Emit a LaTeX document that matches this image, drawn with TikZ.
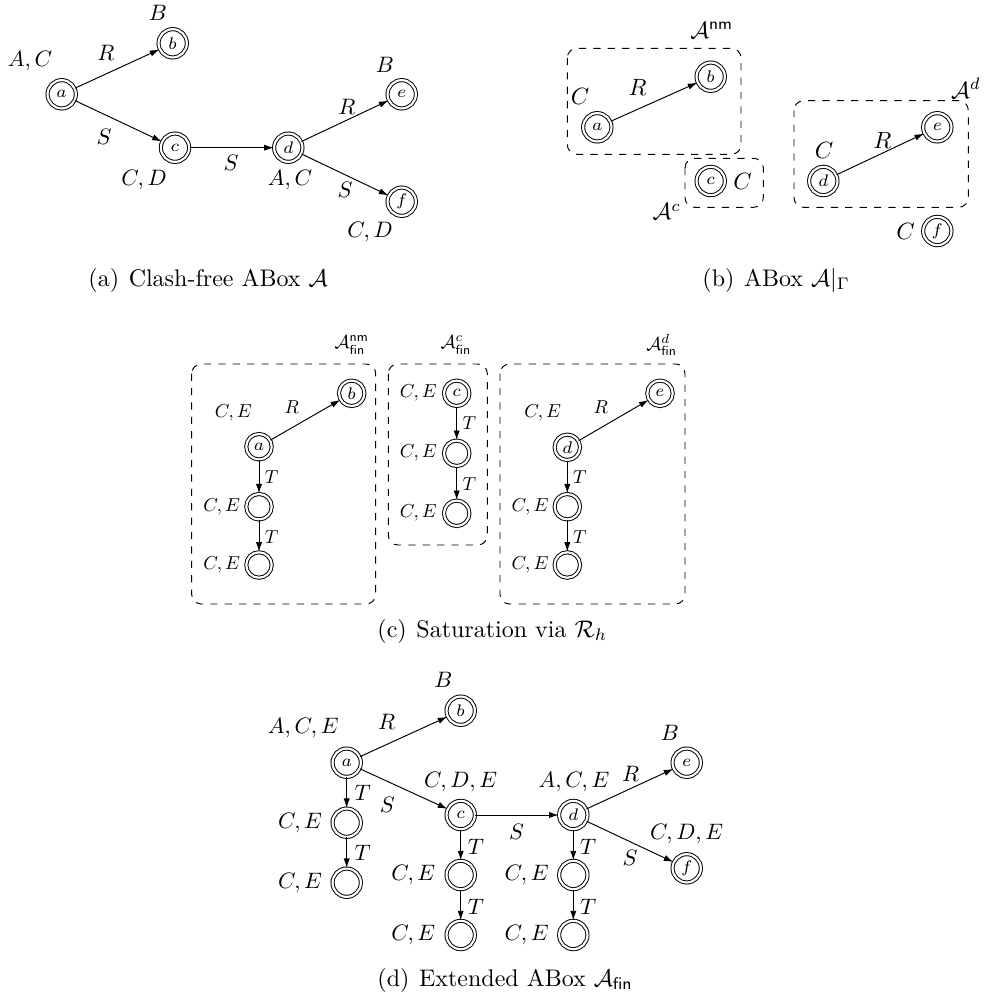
\documentclass[tikz,border=0pt]{standalone}
\usetikzlibrary{arrows.meta}
\begin{document}
\begin{tikzpicture}[x=0.4167pt,y=-0.4167pt,
  st/.style={circle,draw,double,double distance=0.9pt,inner sep=0pt,minimum size=11.8pt,font=\scriptsize},
  stc/.style={st,minimum size=10.6pt},
  lab/.style={inner sep=0pt,scale=0.93},
  labb/.style={inner sep=0pt,scale=0.98},
  labc/.style={inner sep=0pt,scale=0.78},
  arr/.style={-{Latex[length=4pt,width=2.6pt]},line width=0.4pt},
  grp/.style={dashed,rounded corners=4pt},
  capt/.style={inner sep=0pt,anchor=west}]
\useasboundingbox (0,0) rectangle (984,1001);

% ---------- (a) ----------
\node[st] (aa) at (61.7,94.3) {$a$};
\node[st] (ab) at (172.7,43.3) {$b$};
\node[st] (ac) at (175,147.7) {$c$};
\node[st] (ad) at (288.3,147.7) {$d$};
\node[st] (ae) at (401.7,94.3) {$e$};
\node[st] (af) at (401.7,201.7) {$f$};
\node[lab] (laa) at (30,61) {$A,C$};
\node[lab] (lab) at (158,13) {$B$};
\node[lab] (lac) at (144,180) {$C,D$};
\node[lab] (lad) at (290,180) {$A,C$};
\node[lab] (lae) at (385,65) {$B$};
\node[lab] (laf) at (370,232) {$C,D$};
\draw[arr] (aa) -- (ab);
\draw[arr] (aa) -- (ac);
\draw[arr] (ac) -- (ad);
\draw[arr] (ad) -- (ae);
\draw[arr] (ad) -- (af);
\node[lab] (eab) at (106,53) {$R$};
\node[lab] (eac) at (104,137) {$S$};
\node[lab] (ecd) at (231,163) {$S$};
\node[lab] (ede) at (347,107) {$R$};
\node[lab] (edf) at (345,190) {$S$};
\node[capt] (capa) at (88,280) {(a)\hspace{4pt}Clash-free ABox $\mathcal{A}$};

% ---------- (b) ----------
\draw[grp] (567.3,48.3) rectangle (741,154.3);
\draw[grp] (685,158.3) rectangle (763.3,207.3);
\draw[grp] (794,100.7) rectangle (968.3,207.3);
\node[st] (ba) at (597.3,127.3) {$a$};
\node[st] (bb) at (710.7,76.7) {$b$};
\node[st] (bc) at (710.7,181) {$c$};
\node[st] (bd) at (823.3,181) {$d$};
\node[st] (be) at (937.3,127.3) {$e$};
\node[st] (bf) at (937.3,231) {$f$};
\draw[arr] (ba) -- (bb);
\draw[arr] (bd) -- (be);
\node[labb] (lba) at (580,96.7) {$C$};
\node[labb] (lbc) at (742.7,181) {$C$};
\node[labb] (lbd) at (824,150) {$C$};
\node[labb] (lbf) at (905.7,231) {$C$};
\node[labb] (ebab) at (637.7,87.3) {$R$};
\node[labb] (ebde) at (882.3,140) {$R$};
\node[labb] (gnm) at (711.7,30) {$\mathcal{A}^{\mathsf{nm}}$};
\node[labb] (gc) at (666.7,211.7) {$\mathcal{A}^{c}$};
\node[labb] (gd) at (966,88.3) {$\mathcal{A}^{d}$};
\node[capt] (capb) at (702,280) {(b)\hspace{4pt}ABox $\mathcal{A}|_{\Gamma}$};

% ---------- (c) ----------
\draw[grp] (191.7,364) rectangle (375.7,604);
\draw[grp] (388.3,364) rectangle (487.3,545);
\draw[grp] (500,364) rectangle (685,604);
\node[labc] (gcnm) at (351.7,345) {$\mathcal{A}^{\mathsf{nm}}_{\mathsf{fin}}$};
\node[labc] (gcc) at (456,345) {$\mathcal{A}^{c}_{\mathsf{fin}}$};
\node[labc] (gcd) at (661.7,345) {$\mathcal{A}^{d}_{\mathsf{fin}}$};
% box nm
\node[stc] (ca) at (259,446.7) {$a$};
\node[stc] (cb) at (351.7,393.3) {$b$};
\node[stc] (ca1) at (259,506.7) {};
\node[stc] (ca2) at (259,565) {};
\draw[arr] (ca) -- (cb);
\draw[arr] (ca) -- (ca1);
\draw[arr] (ca1) -- (ca2);
\node[labc] (lca) at (233.3,413.3) {$C,E$};
\node[labc] (lca1) at (221.7,506.7) {$C,E$};
\node[labc] (lca2) at (221.7,565) {$C,E$};
\node[labc] (ecab) at (291.7,406.7) {$R$};
\node[labc] (eca1) at (271.7,476.7) {$T$};
\node[labc] (eca2) at (271.7,536.7) {$T$};
% box c
\node[stc] (cc) at (456.7,393.3) {$c$};
\node[stc] (cc1) at (456.7,453.3) {};
\node[stc] (cc2) at (456.7,513.3) {};
\draw[arr] (cc) -- (cc1);
\draw[arr] (cc1) -- (cc2);
\node[labc] (lcc) at (418.3,393.3) {$C,E$};
\node[labc] (lcc1) at (418.3,453.3) {$C,E$};
\node[labc] (lcc2) at (418.3,513.3) {$C,E$};
\node[labc] (ecc1) at (469.3,423.3) {$T$};
\node[labc] (ecc2) at (469.3,484) {$T$};
% box d
\node[stc] (cd) at (567.3,447.3) {$d$};
\node[stc] (ce) at (660,393.3) {$e$};
\node[stc] (cd1) at (567.3,506.7) {};
\node[stc] (cd2) at (567.3,565) {};
\draw[arr] (cd) -- (ce);
\draw[arr] (cd) -- (cd1);
\draw[arr] (cd1) -- (cd2);
\node[labc] (lcd) at (542.7,413.3) {$C,E$};
\node[labc] (lcd1) at (530,506.7) {$C,E$};
\node[labc] (lcd2) at (530,565) {$C,E$};
\node[labc] (ecde) at (600.7,406.7) {$R$};
\node[labc] (ecd1) at (580,476.7) {$T$};
\node[labc] (ecd2) at (580,536.7) {$T$};
\node[capt] (capc) at (377,631) {(c)\hspace{4pt}Saturation via $\mathcal{R}_h$};

% ---------- (d) ----------
\node[st] (da) at (346.7,762.7) {$a$};
\node[st] (db) at (460.7,710.7) {$b$};
\node[st] (da1) at (346.7,822.7) {};
\node[st] (da2) at (346.7,882.7) {};
\node[st] (dc) at (460.7,815) {$c$};
\node[st] (dc1) at (460.7,875) {};
\node[st] (dc2) at (460.7,935) {};
\node[st] (dd) at (573.3,815) {$d$};
\node[st] (dd1) at (573.3,875) {};
\node[st] (dd2) at (573.3,935) {};
\node[st] (de) at (686.7,762.7) {$e$};
\node[st] (df) at (686.7,868.3) {$f$};
\draw[arr] (da) -- (db);
\draw[arr] (da) -- (dc);
\draw[arr] (da) -- (da1);
\draw[arr] (da1) -- (da2);
\draw[arr] (dc) -- (dd);
\draw[arr] (dc) -- (dc1);
\draw[arr] (dc1) -- (dc2);
\draw[arr] (dd) -- (de);
\draw[arr] (dd) -- (df);
\draw[arr] (dd) -- (dd1);
\draw[arr] (dd1) -- (dd2);
\node[lab] (lda) at (303.3,728.3) {$A,C,E$};
\node[lab] (ldb) at (443.3,680) {$B$};
\node[lab] (lda1) at (300,822.7) {$C,E$};
\node[lab] (lda2) at (300,882.7) {$C,E$};
\node[lab] (ldc) at (460.7,781.7) {$C,D,E$};
\node[lab] (ldc1) at (413.3,875) {$C,E$};
\node[lab] (ldc2) at (413.3,935) {$C,E$};
\node[lab] (ldd) at (574,781.7) {$A,C,E$};
\node[lab] (ldd1) at (526.7,875) {$C,E$};
\node[lab] (ldd2) at (526.7,935) {$C,E$};
\node[lab] (lde) at (670,732.7) {$B$};
\node[lab] (ldf) at (686.7,834) {$C,D,E$};
\node[lab] (edab) at (386.7,721.7) {$R$};
\node[lab] (edac) at (387.3,805) {$S$};
\node[lab] (eda1) at (362.7,793.3) {$T$};
\node[lab] (eda2) at (362.7,853.3) {$T$};
\node[lab] (edcd) at (516.7,831.7) {$S$};
\node[lab] (edc1) at (476,846.7) {$T$};
\node[lab] (edc2) at (476,906.7) {$T$};
\node[lab] (edde) at (630.7,774) {$R$};
\node[lab] (eddf) at (630,858.3) {$S$};
\node[lab] (edd1) at (588.3,846.7) {$T$};
\node[lab] (edd2) at (588.3,906.7) {$T$};
\node[capt] (capd) at (377,980) {(d)\hspace{4pt}Extended ABox $\mathcal{A}_{\mathsf{fin}}$};
\end{tikzpicture}
\end{document}
